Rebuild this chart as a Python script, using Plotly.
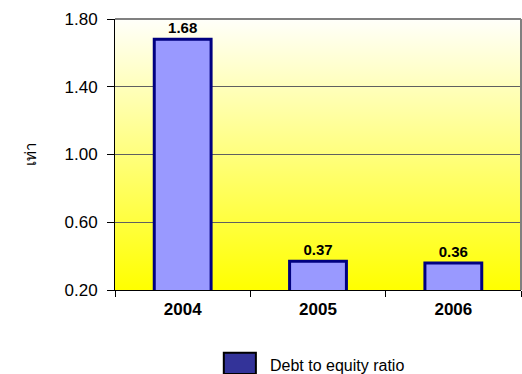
import base64
import plotly.graph_objects as go

years = ["2004", "2005", "2006"]
ratios = [1.68, 0.37, 0.36]
labels = ["1.68", "0.37", "0.36"]
y_ticks = [0.20, 0.60, 1.00, 1.40, 1.80]
series_name = "Debt to equity ratio"
y_title = "เท่า"

svg = ('<svg xmlns="http://www.w3.org/2000/svg" width="100" height="100" preserveAspectRatio="none">'
       '<defs><linearGradient id="g" x1="0" y1="0" x2="0" y2="1">'
       '<stop offset="0" stop-color="#FFFFFA"/><stop offset="1" stop-color="#FFFF00"/>'
       '</linearGradient></defs><rect width="100" height="100" fill="url(#g)"/></svg>')
bg_src = "data:image/svg+xml;base64," + base64.b64encode(svg.encode()).decode()

fig = go.Figure()
fig.add_trace(go.Bar(
    x=years, y=ratios, text=labels, textposition="outside",
    textfont=dict(family="Liberation Sans, Arial", size=15, color="black", weight="bold"),
    marker=dict(color="#9999FF", line=dict(color="#000080", width=3)),
    width=0.42, showlegend=False, cliponaxis=False, name=series_name,
))

fig.update_layout(
    width=522, height=374,
    margin=dict(l=115, r=1, t=19, b=84),
    paper_bgcolor="white", plot_bgcolor="rgba(0,0,0,0)",
    font=dict(family="Liberation Sans, Arial", color="black"),
    bargap=0.58,
    images=[dict(source=bg_src, xref="paper", yref="paper", x=0, y=1,
                 sizex=1, sizey=1, sizing="stretch", layer="below",
                 xanchor="left", yanchor="top")],
    xaxis=dict(
        type="category", tickson="boundaries", ticks="outside", ticklen=6,
        tickcolor="black", showline=True, linecolor="black", linewidth=1,
        showgrid=False, tickfont=dict(size=17, weight="bold"),
        ticklabelstandoff=4,
    ),
    yaxis=dict(
        range=[0.2, 1.8], tickvals=y_ticks, tickformat=".2f",
        ticks="outside", ticklen=7, tickcolor="black",
        showline=True, linecolor="black", linewidth=1,
        showgrid=True, gridcolor="#606060", gridwidth=1,
        tickfont=dict(size=17), ticklabelstandoff=6, zeroline=False,
    ),
    shapes=[
        dict(type="line", xref="paper", yref="paper", x0=0, x1=1, y0=1, y1=1,
             line=dict(color="#808080", width=2)),
        dict(type="line", xref="paper", yref="paper", x0=1, x1=1, y0=0, y1=1,
             line=dict(color="#808080", width=2)),
        dict(type="rect", xref="paper", yref="paper", x0=0.268, x1=0.347,
             y0=-0.31, y1=-0.232, fillcolor="#333399",
             line=dict(color="black", width=2)),
    ],
    annotations=[
        dict(text=y_title, xref="paper", yref="paper", x=-0.234, y=0.5,
             textangle=-90, showarrow=False, font=dict(size=15)),
        dict(text=series_name, xref="paper", yref="paper", x=0.377, y=-0.277,
             xanchor="left", yanchor="middle", showarrow=False, font=dict(size=16)),
    ],
)

fig.write_html("out.html")
